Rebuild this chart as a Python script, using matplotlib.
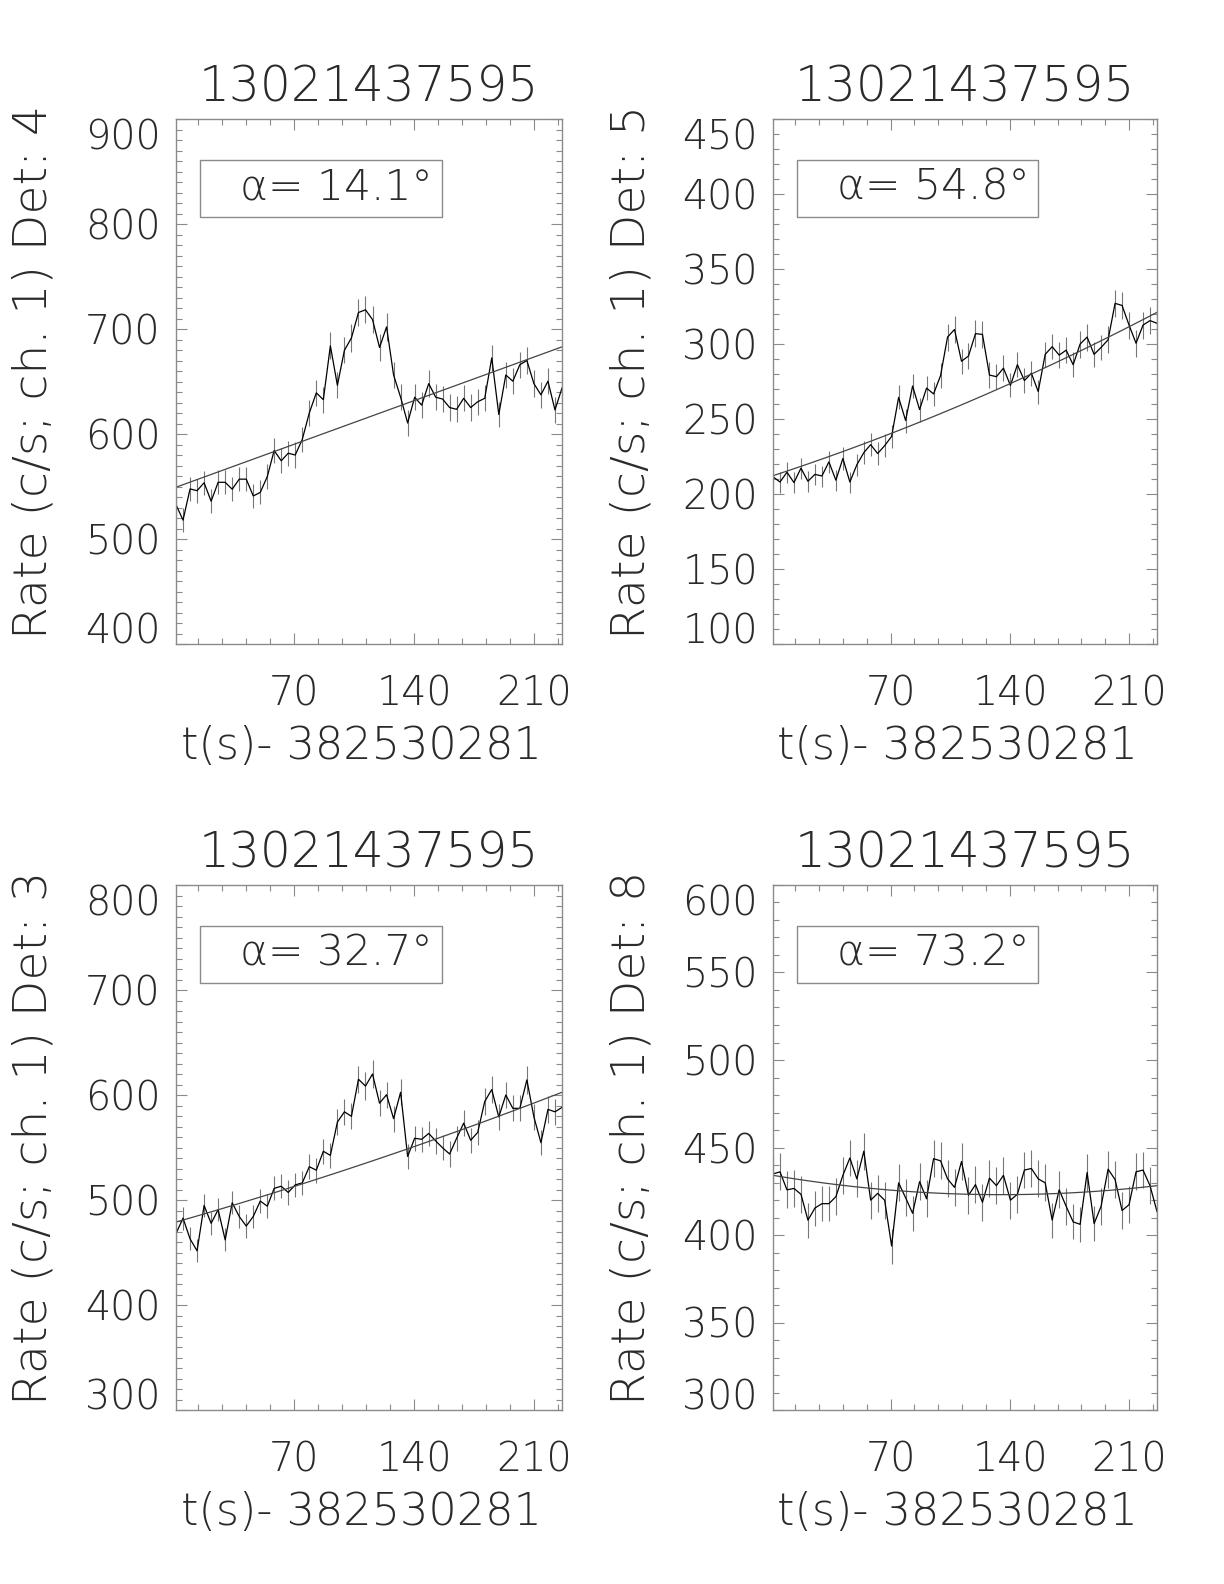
import matplotlib
matplotlib.use('Agg')
import numpy as np
import matplotlib.pyplot as plt
from matplotlib.patches import Rectangle
from matplotlib.ticker import MultipleLocator

plt.rcParams['font.family'] = ['DejaVu Sans']
plt.rcParams['font.weight'] = 200

# time bins (s) after trigger, 4.096 s CSPEC bins
t = [1.0, 5.1, 9.2, 13.3, 17.4, 21.5, 25.6, 29.7, 33.8, 37.9,
     42.0, 46.1, 50.2, 54.3, 58.3, 62.4, 66.5, 70.6, 74.7, 78.8,
     82.9, 87.0, 91.1, 95.2, 99.3, 103.4, 107.5, 111.6, 115.7, 119.8,
     123.9, 128.0, 132.1, 136.2, 140.3, 144.4, 148.5, 152.6, 156.6, 160.7,
     164.8, 168.9, 173.0, 177.1, 181.2, 185.3, 189.4, 193.5, 197.6, 201.7,
     205.8, 209.9, 214.0, 218.1, 222.2, 226.3]

# det 4
rate4 = [532.7, 518, 547.7, 546, 553.6, 536, 554, 554, 547.4, 557,
         557, 541, 544.4, 559.5, 584.3, 574.5, 581.7, 580, 594.8, 620,
         639.2, 632.7, 684, 646.4, 679.7, 691.5, 715.7, 718.3, 709, 682.4,
         702, 656.2, 635, 610.5, 635, 627.5, 648, 635, 633.3, 625.2,
         623.5, 634, 625.2, 630.7, 634, 672.5, 618.6, 656.2, 650.3, 666,
         670, 648, 637.3, 650.3, 622.9, 643.8]
err4 = [11.5, 11.5, 11.5, 11.5, 11.5, 11.5, 11.5, 11.5, 11.5, 11.5,
        11.5, 11.5, 11.5, 11.5, 12, 12, 12, 12, 12, 12.5,
        12.5, 12.5, 13, 12.5, 12.5, 13, 13, 13, 13, 13,
        13, 12.5, 12.5, 12, 12.5, 12.5, 12.5, 12.5, 12.5, 12.5,
        12.5, 12.5, 12.5, 12.5, 12.5, 12.5, 12, 12.5, 12.5, 12.5,
        12.5, 12.5, 12.5, 12.5, 12.5, 12.5]

# det 5
rate5 = [211.5, 208, 214.5, 207.6, 217.2, 208.5, 213.1, 212, 221.4, 209.2,
         223.7, 208, 219.5, 227.6, 232.9, 227, 232.2, 238.4, 264.4, 249,
         272, 256.3, 270.6, 266.7, 278.9, 304.6, 309.7, 288.5, 292, 306.9,
         306.4, 279.3, 278.2, 283.9, 272.4, 286.2, 275.6, 280.5, 268.3, 293.1,
         298.2, 292.6, 295.9, 286.2, 300, 304.6, 293.1, 297.7, 302.8, 327.1,
         325.7, 312.6, 300.5, 312.6, 315.6, 313.8]
err5 = [7, 7, 7, 7, 7, 7, 7, 7, 7.5, 7,
        7.5, 7, 7.5, 7.5, 7.5, 7.5, 7.5, 7.5, 8, 8,
        8, 8, 8, 8, 8.5, 9, 9, 8.5, 8.5, 9,
        9, 8.5, 8.5, 8.5, 8, 8.5, 8.5, 8.5, 8, 8.5,
        8.5, 8.5, 8.5, 8.5, 9, 9, 8.5, 8.5, 9, 9,
        9, 9, 9, 9, 9, 9]

# det 3
rate3 = [468, 482.7, 463, 451.6, 494.8, 477.8, 490.8, 462, 497.4, 484.3,
         475.2, 484.3, 499, 494.1, 511.1, 513.1, 507.2, 514.4, 516.3, 531.7,
         528.4, 546.4, 542.5, 574.2, 584, 579.7, 615, 608.5, 620, 592.2,
         600.3, 577.5, 602.6, 541.5, 558.8, 557.8, 563.4, 556.2, 549.7, 543.8,
         558.8, 573.2, 556.9, 564.4, 593.8, 605.2, 579.1, 600, 587.3, 587.3,
         614.4, 579.1, 554.6, 586.3, 584, 588.2]
err3 = [11, 11, 11, 11, 11, 11, 11, 11, 11, 11,
        11, 11, 11.5, 11.5, 11.5, 11.5, 11.5, 11.5, 11.5, 12,
        12, 12, 12, 12.5, 12.5, 12.5, 13, 13, 13, 12.5,
        12.5, 12.5, 12.5, 12, 12, 12, 12, 12, 12, 12,
        12, 12.5, 12, 12, 12.5, 13, 12.5, 12.5, 12.5, 12.5,
        13, 12.5, 12, 12.5, 12.5, 12.5]

# det 8
rate8 = [434.9, 436.1, 425.8, 426.6, 423.3, 408.5, 415.4, 417.9, 417.9, 421.9,
         434.1, 444, 432.1, 447.9, 419.9, 423.8, 419.9, 393.7, 429.8, 421.3,
         412.4, 430.5, 420.7, 443.6, 442.4, 432.1, 427.2, 442, 422.7, 428.8,
         418.7, 432.5, 428.2, 434.1, 419.9, 423.3, 437.1, 438, 432.1, 429.8,
         408.5, 425.8, 416.4, 407.5, 406.1, 435.7, 406.5, 416.4, 437.6, 431.7,
         414, 417.3, 436.1, 437.1, 428.2, 413.4]
err8 = [10.5, 10.5, 10.5, 10.5, 10.5, 10, 10, 10, 10, 10.5,
        10.5, 10.5, 10.5, 10.5, 10.5, 10.5, 10.5, 10, 10.5, 10.5,
        10, 10.5, 10.5, 10.5, 10.5, 10.5, 10.5, 10.5, 10.5, 10.5,
        10.5, 10.5, 10.5, 10.5, 10.5, 10.5, 10.5, 10.5, 10.5, 10.5,
        10, 10.5, 10.5, 10, 10, 10.5, 10, 10.5, 10.5, 10.5,
        10.5, 10.5, 10.5, 10.5, 10.5, 10.5]

# background fit: c0 + c1*s + c2*s^2, s = t - t[0]
bkg4 = [549.3, 0.5934, 0.0]
bkg5 = [212.2, 0.3728, 4.91e-4]
bkg3 = [479.0, 0.4665, 3.64e-4]
bkg8 = [434.1, -0.165, 6.16e-4]

dets = ['4', '5', '3', '8']
angles = ['14.1', '54.8', '32.7', '73.2']
ylims = [(400, 900), (100, 450), (300, 800), (300, 600)]
ymajor = [100, 50, 100, 50]
rates = [rate4, rate5, rate3, rate8]
errs = [err4, err5, err3, err8]
bkgs = [bkg4, bkg5, bkg3, bkg8]

title = '13021437595'
xlab = 't(s)- 382530281'

W, H = 1224, 1584
# axes boxes in pixels (left, right, top, bottom)
boxes = [(176, 562, 119, 644), (773, 1157, 119, 644),
         (176, 562, 885, 1410), (773, 1157, 885, 1410)]

gray = '#8a8a8a'
txt = '#2a2a2a'
fig = plt.figure(figsize=(W / 100, H / 100), dpi=100)

for k in range(4):
    l, r, tp, bt = boxes[k]
    ax = fig.add_axes([l / W, 1 - bt / H, (r - l) / W, (bt - tp) / H])
    tt = np.array(t)
    v = np.array(rates[k])
    e = np.array(errs[k])
    c0, c1, c2 = bkgs[k]
    s = tt - tt[0]
    fit = c0 + c1 * s + c2 * s ** 2

    #error bars, light curve, background fit
    ax.vlines(tt, v - e, v + e, color='#767676', lw=0.8)
    ax.plot(tt, v, color='black', lw=0.9)
    ax.plot(tt, fit, color='#444444', lw=0.9)

    ax.set_xlim(tt[0], tt[-1])
    ax.set_ylim(*ylims[k])
    ax.set_xticks([70, 140, 210])
    ax.xaxis.set_minor_locator(MultipleLocator(14))
    lo, hi = ylims[k]
    ax.set_yticks(np.arange(lo, hi + 1, ymajor[k]))
    ax.yaxis.set_minor_locator(MultipleLocator(10))
    ax.tick_params(which='both', direction='in', top=True, right=True,
                   color=gray, width=0.8, labelsize=28.5, labelcolor=txt)
    ax.tick_params(which='major', length=8)
    ax.tick_params(which='minor', length=4)
    ax.tick_params(axis='x', pad=22)
    ax.tick_params(axis='y', pad=11)
    for sp in ax.spines.values():
        sp.set_color(gray)
        sp.set_linewidth(1.0)

    #keep end labels inside the axis span
    yt = ax.yaxis.get_major_ticks()
    yt[0].label1.set_va('baseline')
    yt[-1].label1.set_va('top')

    ax.set_xlabel(xlab, fontsize=32, fontweight=200, color=txt, va='center')
    ax.xaxis.set_label_coords(0.48, -0.195)
    ax.set_ylabel('Rate (c/s; ch. 1) Det: ' + dets[k], fontsize=34,
                  fontweight=200, color=txt, va='center')
    ax.yaxis.set_label_coords(-0.368, 0.518)

    ax.text(0.5, 1.034, title, transform=ax.transAxes, ha='center',
            va='baseline', fontsize=35, color=txt)

    ax.add_patch(Rectangle((0.062, 0.813), 0.627, 0.109, transform=ax.transAxes,
                           fill=False, edgecolor=gray, lw=1.0))
    ax.text(0.166, 0.846, 'α= ' + angles[k] + '°', transform=ax.transAxes,
            ha='left', va='baseline', fontsize=30.5, color=txt)

fig.savefig('out.png', dpi=100)
